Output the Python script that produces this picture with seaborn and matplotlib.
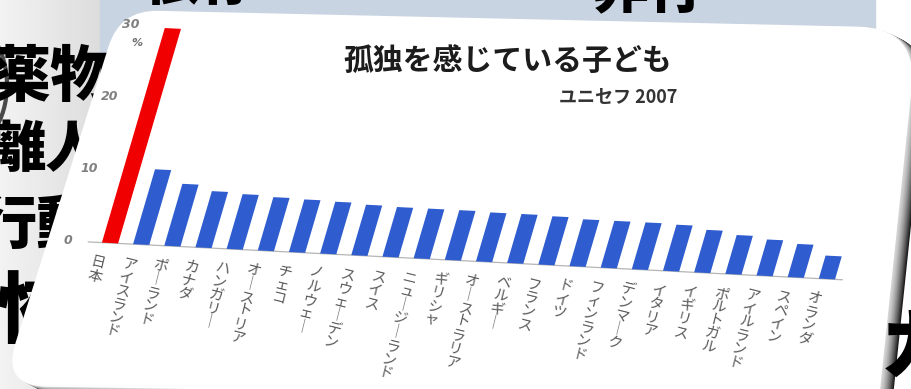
import numpy as np
import matplotlib
matplotlib.use("Agg")
import matplotlib.pyplot as plt
import seaborn as sns
from matplotlib.path import Path
from matplotlib.patches import PathPatch, Rectangle, Ellipse
from matplotlib.transforms import Affine2D

# ---- data -------------------------------------------------------------
countries = ["日本", "アイスランド", "ポーランド", "カナダ", "ハンガリー",
             "オーストリア", "チェコ", "ノルウェー", "スウェーデン", "スイス",
             "ニュージーランド", "ギリシャ", "オーストラリア", "ベルギー",
             "フランス", "ドイツ", "フィンランド", "デンマーク", "イタリア",
             "イギリス", "ポルトガル", "アイルランド", "スペイン", "オランダ"]
lonely_pct = [29.8, 10.4, 8.6, 7.8, 7.6, 7.4, 7.3, 7.2, 7.0, 6.9, 6.9, 6.9,
              6.8, 6.8, 6.7, 6.5, 6.5, 6.5, 6.4, 5.9, 5.4, 5.0, 4.6, 3.2]
y_ticks = [0, 10, 20, 30]
title = "孤独を感じている子ども"
source = "ユニセフ 2007"
highlight = "日本"

sns.set_theme(style="white")
plt.rcParams["font.family"] = ["Noto Sans CJK JP", "DejaVu Sans"]

W, H = 912, 389
fig = plt.figure(figsize=(W / 100, H / 100), dpi=100)

# backdrop axes in pixel units (y downwards)
bg = fig.add_axes([0, 0, 1, 1])
bg.set_xlim(0, W)
bg.set_ylim(H, 0)
bg.axis("off")

# slide behind the card
grad = np.tile(np.linspace(0.95, 0.84, 64), (8, 1))
bg.imshow(grad, extent=(0, 130, H, 0), cmap="gray", vmin=0, vmax=1,
          aspect="auto", zorder=0)
bg.add_patch(Ellipse((-38, 85), 90, 130, facecolor="#f2f2f2",
                     edgecolor="#4a4a4a", lw=3, zorder=0.4))
bg.add_patch(Rectangle((100, 0), 775, 70, color="#c9d4e2", zorder=0.5))

heavy = dict(family=["Noto Sans CJK JP", "DejaVu Sans"], fontweight="heavy",
             color="black", zorder=1)
bg.text(112, 78, "薬物", ha="right", va="center", fontsize=44, **heavy)
bg.text(102, 150, "離人", ha="right", va="center", fontsize=40, **heavy)
bg.text(95, 226, "行動", ha="right", va="center", fontsize=42, **heavy)
bg.text(75, 314, "恐怖", ha="right", va="center", fontsize=56, **heavy)
bg.text(648, -8, "非行", ha="center", va="center", fontsize=40, **heavy)
bg.text(200, -17, "一依存一", ha="center", va="center", fontsize=40, **heavy)


def rounded_path(pts, radii):
    verts, codes = [], []
    n = len(pts)
    for k in range(n):
        p = np.array(pts[k], float)
        prev = np.array(pts[k - 1], float)
        nxt = np.array(pts[(k + 1) % n], float)
        r = radii[k]
        a = p + (prev - p) / np.linalg.norm(prev - p) * r
        b = p + (nxt - p) / np.linalg.norm(nxt - p) * r
        verts.append(a)
        codes.append(Path.MOVETO if k == 0 else Path.LINETO)
        verts += [p, b]
        codes += [Path.CURVE3, Path.CURVE3]
    verts.append(verts[0])
    codes.append(Path.CLOSEPOLY)
    return Path(verts, codes)


card = rounded_path([(120, 10), (918, 28), (879, 400), (2, 386)],
                    [38, 60, 1, 45])

# dark curled edge / shadow of the card
steps = 13
for k in range(steps, 0, -1):
    shade = 0.85 - 0.75 * (k / steps) ** 1.5
    off = Affine2D().translate(k * 1.0, k * 0.5)
    bg.add_patch(PathPatch(off.transform_path(card), facecolor=str(shade),
                           edgecolor="none", zorder=2))
bg.text(880, 350, "カ", ha="left", va="center", fontsize=56,
        family=["Noto Sans CJK JP", "DejaVu Sans"], fontweight="heavy",
        color="black", zorder=2.5)
bg.add_patch(PathPatch(card, facecolor="white", edgecolor="none", zorder=3))

# ---- bar chart ----------------------------------------------------------
# mapping from (category index, percent) to the tilted sheet on the card
sheet = Affine2D.from_values(31.17, 1.565, 2.11, -7.2, 110, 243) + bg.transData

ax = fig.add_axes([0, 0, 1, 1])
ax.axis("off")
ax.patch.set_visible(False)
palette = {c: ("#f00000" if c == highlight else "#2f5dcf") for c in countries}
sns.barplot(x=countries, y=lonely_pct, hue=countries, palette=palette,
            legend=False, width=0.52, errorbar=None, saturation=1, ax=ax)
for bar in ax.patches:
    bar.set_transform(sheet)
    bar.set_clip_on(False)
    bar.set_edgecolor("none")

n = len(countries)
bg.plot([-0.7, n - 0.5], [0, 0], transform=sheet, color="#b5b5b5", lw=0.9,
        zorder=4)

for t in y_ticks:
    bg.text(-1.35, t, str(t), transform=sheet, ha="center", va="center",
            fontsize=9, color="#808080", style="italic",
            family="DejaVu Sans", fontweight="bold", zorder=5)
bg.text(-1.0, 27.6, "%", transform=sheet, ha="center", va="center",
        fontsize=8, color="#707070", style="italic", family="DejaVu Sans",
        fontweight="bold", zorder=5)


def tategaki(word):
    return "\n".join("｜" if ch == "ー" else ch for ch in word)


for i, name in enumerate(countries):
    bg.text(i - 0.2, -1.9, tategaki(name), transform=sheet, rotation=-14,
            rotation_mode="anchor", ha="center", va="top", fontsize=10.5,
            linespacing=0.98, color="#5a5a5a", zorder=5)

bg.text(508, 62, title, ha="center", va="center", fontsize=21.5,
        fontweight="bold", color="#1c1c1c", zorder=5)
bg.text(677, 97, source, ha="right", va="center", fontsize=13,
        fontweight="bold", color="#333333", zorder=5)

fig.savefig("out.png", dpi=100)
